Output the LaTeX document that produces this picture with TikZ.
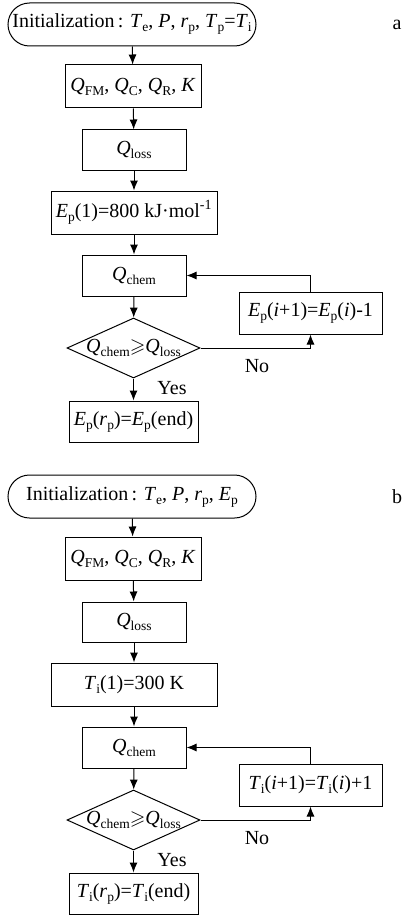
\documentclass[tikz,border=0pt]{standalone}
\usepackage{fontspec}
\setmainfont{Liberation Serif}
\usepackage{amssymb}
\usetikzlibrary{shapes.geometric,shapes.misc,arrows.meta}
\newcommand\subs[1]{\raisebox{-0.2em}{\fontsize{13.5}{13.5}\selectfont #1}}
\newcommand\qv[2]{\textit{#1}\subs{#2}}
\begin{document}
\begin{tikzpicture}[x=1pt,y=-1pt,
  every node/.style={font=\fontsize{20}{24}\selectfont},
  box/.style={draw, rectangle, line width=1pt, inner sep=0pt},
  term/.style={draw, rounded rectangle, line width=1pt, inner sep=0pt, minimum width=248pt, minimum height=43pt},
  dec/.style={draw, diamond, line width=1pt, inner sep=0pt, minimum width=133pt, minimum height=60pt},
  arr/.style={-{Latex[length=10pt,width=8pt]}, line width=1pt},
  lbl/.style={inner sep=0pt}]
\useasboundingbox (0,0) rectangle (409,915);

% ---------- a ----------
\begin{scope}[name prefix=a-]
\node[term] (init) at (132,24.5) {};
\node[lbl] (initt) at (init.center) {Initialization\,: \qv{T}{e}, \textit{P}, \qv{r}{p}, \qv{T}{p}=\qv{T}{i}};
\node[box, minimum width=136pt, minimum height=43pt] (q) at (133,86.5) {\qv{Q}{FM}, \qv{Q}{C}, \qv{Q}{R}, \textit{K}};
\node[box, minimum width=104pt, minimum height=40pt] (loss) at (134,150) {\qv{Q}{loss}};
\node[box, minimum width=166pt, minimum height=43pt] (start) at (134,212.5) {\qv{E}{p}(1)=800 kJ·mol\textsuperscript{-1}};
\node[box, minimum width=104pt, minimum height=41pt] (chem) at (134,275.5) {\qv{Q}{chem}};
\node[dec] (dec) at (133.5,348) {};
\node[lbl] (dect) at (dec.center) {\qv{Q}{chem}$\geqslant$\qv{Q}{loss}};
\node[box, minimum width=143pt, minimum height=42pt] (upd) at (310.5,313) {\qv{E}{p}(\textit{i}+1)=\qv{E}{p}(\textit{i})-1};
\node[box, minimum width=129pt, minimum height=41pt] (end) at (133.5,421.5) {\qv{E}{p}(\qv{r}{p})=\qv{E}{p}(end)};
\node[lbl] (yes) at (172,388) {Yes};
\node[lbl] (no) at (257,366) {No};
\node[lbl] (lab) at (397,25) {a};
\draw[arr] (init) -- (q);
\draw[arr] (q) -- (loss);
\draw[arr] (loss) -- (start);
\draw[arr] (start) -- (chem);
\draw[arr] (chem) -- (dec);
\draw[arr] (dec) -- (end);
\draw[arr] (dec.east) -| (upd.south);
\draw[arr] (upd.north) |- (chem.east);
\end{scope}

% ---------- b ----------
\begin{scope}[name prefix=b-, yshift=-472pt]
\node[term] (init) at (132,24.5) {};
\node[lbl] (initt) at (init.center) {Initialization\,: \qv{T}{e}, \textit{P}, \qv{r}{p}, \qv{E}{p}};
\node[box, minimum width=136pt, minimum height=43pt] (q) at (133,86.5) {\qv{Q}{FM}, \qv{Q}{C}, \qv{Q}{R}, \textit{K}};
\node[box, minimum width=104pt, minimum height=40pt] (loss) at (134,150) {\qv{Q}{loss}};
\node[box, minimum width=166pt, minimum height=43pt] (start) at (134,212.5) {\qv{T}{i}(1)=300 K};
\node[box, minimum width=104pt, minimum height=41pt] (chem) at (134,275.5) {\qv{Q}{chem}};
\node[dec] (dec) at (133.5,348) {};
\node[lbl] (dect) at (dec.center) {\qv{Q}{chem}$\geqslant$\qv{Q}{loss}};
\node[box, minimum width=143pt, minimum height=42pt] (upd) at (310.5,313) {\qv{T}{i}(\textit{i}+1)=\qv{T}{i}(\textit{i})+1};
\node[box, minimum width=129pt, minimum height=41pt] (end) at (133.5,421.5) {\qv{T}{i}(\qv{r}{p})=\qv{T}{i}(end)};
\node[lbl] (yes) at (172,388) {Yes};
\node[lbl] (no) at (257,366) {No};
\node[lbl] (lab) at (397,25) {b};
\draw[arr] (init) -- (q);
\draw[arr] (q) -- (loss);
\draw[arr] (loss) -- (start);
\draw[arr] (start) -- (chem);
\draw[arr] (chem) -- (dec);
\draw[arr] (dec) -- (end);
\draw[arr] (dec.east) -| (upd.south);
\draw[arr] (upd.north) |- (chem.east);
\end{scope}
\end{tikzpicture}
\end{document}
